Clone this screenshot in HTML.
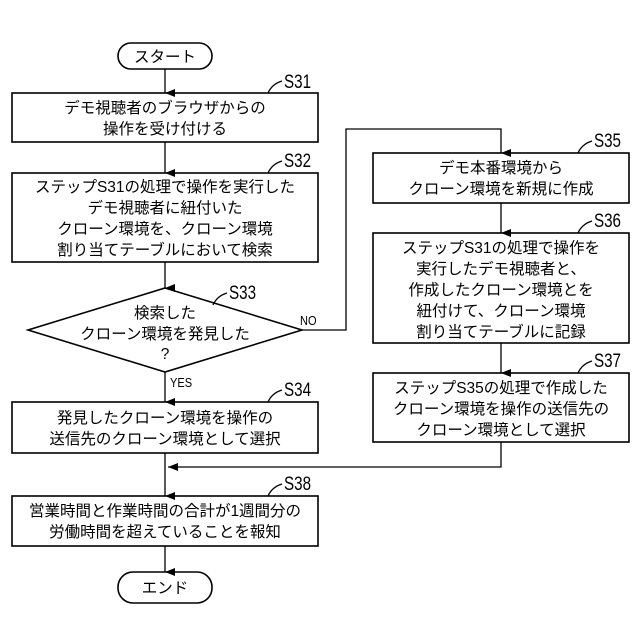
<!DOCTYPE html>
<html><head><meta charset="utf-8"><style>
html,body{margin:0;padding:0;background:#fff}
svg{display:block}
text{font-family:"Liberation Sans","Noto Sans CJK JP",sans-serif;fill:#000}
.t{font-size:15.5px;text-anchor:middle}
.l{font-size:19px}
.s{font-size:13px}
</style></head><body>
<svg width="640" height="640" viewBox="0 0 640 640" xmlns="http://www.w3.org/2000/svg">
<defs><marker id="a" markerWidth="8" markerHeight="10" refX="4" refY="10" orient="auto" markerUnits="userSpaceOnUse"><path d="M0,0 L8,0 L4,10 Z" fill="#000" transform="rotate(0)"/></marker>
<marker id="ar" markerWidth="10" markerHeight="8" refX="0" refY="4" orient="0" markerUnits="userSpaceOnUse"><path d="M10,0 L10,8 L0,4 Z" fill="#000"/></marker></defs>
<g fill="none" stroke="#000" stroke-width="1.6">
<rect x="118" y="43" width="94" height="26" rx="13"/>
<rect x="12" y="93" width="306" height="49"/>
<rect x="12" y="173" width="306" height="89"/>
<polygon points="165,288 302,330 165,372 28,330"/>
<rect x="12" y="402" width="306" height="51"/>
<rect x="12" y="496" width="306" height="50"/>
<rect x="118" y="572" width="94" height="31" rx="15"/>
<rect x="373" y="153" width="256" height="50"/>
<rect x="373" y="233" width="256" height="110"/>
<rect x="373" y="373" width="256" height="69"/>
</g>
<g stroke="#000" stroke-width="1.3" fill="none">
<path d="M165 69 V93" marker-end="url(#a)"/>
<path d="M165 142 V173" marker-end="url(#a)"/>
<path d="M165 262 V288" marker-end="url(#a)"/>
<path d="M165 372 V402" marker-end="url(#a)"/>
<path d="M165 453 V496" marker-end="url(#a)"/>
<path d="M165 546 V572" marker-end="url(#a)"/>
<path d="M302 330 H346 V129 H501 V153" marker-end="url(#a)"/>
<path d="M501 203 V233" marker-end="url(#a)"/>
<path d="M501 343 V373" marker-end="url(#a)"/>
<path d="M501 442 V467 H168" marker-end="url(#ar)"/>
<path d="M268 93 q4 -9 14 -12"/>
<path d="M268 173 q4 -9 14 -12"/>
<path d="M213 305 q4 -9 14 -12"/>
<path d="M268 402 q4 -9 14 -12"/>
<path d="M268 496 q4 -9 14 -12"/>
<path d="M578 153 q4 -9 14 -12"/>
<path d="M578 233 q4 -9 14 -12"/>
<path d="M578 373 q4 -9 14 -12"/>
</g>
<g class="l">
<text x="284" y="88" transform="translate(284 0) scale(0.8 1) translate(-284 0)">S31</text>
<text x="284" y="167" transform="translate(284 0) scale(0.8 1) translate(-284 0)">S32</text>
<text x="229" y="299" transform="translate(229 0) scale(0.8 1) translate(-229 0)">S33</text>
<text x="284" y="396" transform="translate(284 0) scale(0.8 1) translate(-284 0)">S34</text>
<text x="284" y="490" transform="translate(284 0) scale(0.8 1) translate(-284 0)">S38</text>
<text x="594" y="147" transform="translate(594 0) scale(0.8 1) translate(-594 0)">S35</text>
<text x="594" y="227" transform="translate(594 0) scale(0.8 1) translate(-594 0)">S36</text>
<text x="594" y="367" transform="translate(594 0) scale(0.8 1) translate(-594 0)">S37</text>
</g>
<text class="s" x="300" y="325" transform="translate(300 0) scale(0.85 1) translate(-300 0)">NO</text>
<text class="s" x="170" y="387" transform="translate(170 0) scale(0.85 1) translate(-170 0)">YES</text>
<g class="t">
<text x="165" y="62">スタート</text>
<text x="165" y="113">デモ視聴者のブラウザからの</text>
<text x="165" y="134">操作を受け付ける</text>
<text x="165" y="192">ステップS31の処理で操作を実行した</text>
<text x="165" y="213">デモ視聴者に紐付いた</text>
<text x="165" y="234">クローン環境を、クローン環境</text>
<text x="165" y="255">割り当てテーブルにおいて検索</text>
<text x="165" y="318">検索した</text>
<text x="165" y="339">クローン環境を発見した</text>
<text x="165" y="359">?</text>
<text x="165" y="423">発見したクローン環境を操作の</text>
<text x="165" y="444">送信先のクローン環境として選択</text>
<text x="165" y="516">営業時間と作業時間の合計が1週間分の</text>
<text x="165" y="537">労働時間を超えていることを報知</text>
<text x="165" y="593">エンド</text>
<text x="501" y="173">デモ本番環境から</text>
<text x="501" y="194">クローン環境を新規に作成</text>
<text x="501" y="253">ステップS31の処理で操作を</text>
<text x="501" y="274">実行したデモ視聴者と、</text>
<text x="501" y="295">作成したクローン環境とを</text>
<text x="501" y="316">紐付けて、クローン環境</text>
<text x="501" y="337">割り当てテーブルに記録</text>
<text x="501" y="393">ステップS35の処理で作成した</text>
<text x="501" y="414">クローン環境を操作の送信先の</text>
<text x="501" y="435">クローン環境として選択</text>
</g>
</svg>
</body></html>
